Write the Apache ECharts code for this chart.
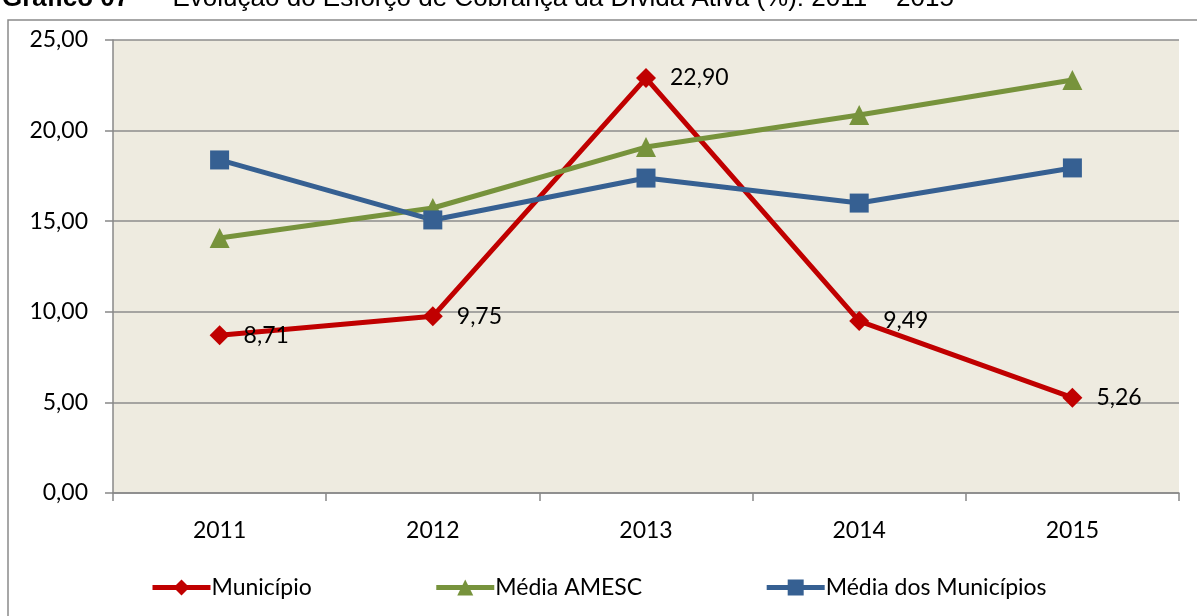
<!DOCTYPE html>
<html>
<head>
<meta charset="utf-8">
<script src="https://cdn.jsdelivr.net/npm/echarts@6/dist/echarts.min.js"></script>
<style>
  html, body { margin: 0; padding: 0; background: #fff; }
  #chart { width: 1197px; height: 616px; }
</style>
</head>
<body>
<div id="chart"></div>
<script>
const years = ['2011', '2012', '2013', '2014', '2015'];
const municipio = [8.71, 9.75, 22.90, 9.49, 5.26];
const mediaAmesc = [14.07, 15.73, 19.09, 20.86, 22.79];
const mediaMunicipios = [18.38, 15.07, 17.38, 16.0, 17.94];

const fmt = v => v.toFixed(2).replace('.', ',');
const font = 'Lato';
const fs = 23;

let chart = echarts.init(document.getElementById('chart'));

const lineSeries = (name, data, color, symbol, size, labels) => ({
  name: name,
  type: 'line',
  data: data,
  symbol: symbol,
  symbolSize: size,
  lineStyle: { color: color, width: 5 },
  itemStyle: { color: color },
  label: {
    show: labels,
    position: 'right',
    distance: 14,
    color: '#000',
    fontFamily: font,
    fontSize: fs,
    formatter: p => fmt(p.value)
  },
  emphasis: { disabled: true },
  animation: false
});

const chartOptions = {
  backgroundColor: '#fff',
  title: {
    text: '{b|Gráfico 07}{r|  –  Evolução do Esforço de Cobrança da Dívida Ativa (%): 2011 – 2015}',
    left: -3,
    top: -19,
    textStyle: {
      fontFamily: 'Liberation Sans',
      fontSize: 26,
      fontWeight: 'normal',
      color: '#000',
      rich: {
        b: { fontFamily: 'Liberation Sans', fontWeight: 'bold', fontSize: 26, color: '#000' },
        r: { fontFamily: 'Liberation Sans', fontWeight: 'normal', fontSize: 26, color: '#000' }
      }
    }
  },
  graphic: [{
    type: 'rect',
    shape: { x: 8, y: 20, width: 1200, height: 620 },
    style: { fill: 'none', stroke: '#8a8a8a', lineWidth: 1.5 },
    silent: true,
    z: -1
  }],
  grid: { left: 113, right: 18, top: 40, bottom: 123, show: true, backgroundColor: '#EEEBE0', borderWidth: 0 },
  legend: {
    left: 145,
    top: 571,
    itemWidth: 58,
    itemHeight: 20,
    itemGap: 122,
    lineStyle: { width: 5 },
    textStyle: { fontFamily: font, fontSize: fs, color: '#000', padding: [0, 0, 0, -4] },
    data: ['Município', 'Média AMESC', 'Média dos Municípios']
  },
  xAxis: {
    type: 'category',
    data: years,
    boundaryGap: true,
    axisLine: { lineStyle: { color: '#888', width: 1.5 } },
    axisTick: { show: true, length: 8, lineStyle: { color: '#888', width: 1.5 } },
    axisLabel: { margin: 26, color: '#000', fontFamily: font, fontSize: fs }
  },
  yAxis: {
    type: 'value',
    min: 0,
    max: 25,
    interval: 5,
    axisLine: { show: true, lineStyle: { color: '#888', width: 1.5 } },
    axisTick: { show: true, length: 8, lineStyle: { color: '#888', width: 1.5 } },
    axisLabel: { margin: 25, color: '#000', fontFamily: font, fontSize: fs, formatter: fmt },
    splitLine: { lineStyle: { color: '#8c8c8c', width: 1.5 } }
  },
  series: [
    lineSeries('Município', municipio, '#C00000', 'diamond', 20, true),
    lineSeries('Média AMESC', mediaAmesc, '#77933C', 'triangle', 20, false),
    lineSeries('Média dos Municípios', mediaMunicipios, '#366092', 'rect', 19, false)
  ]
};
chart.setOption(chartOptions);
</script>
</body>
</html>
